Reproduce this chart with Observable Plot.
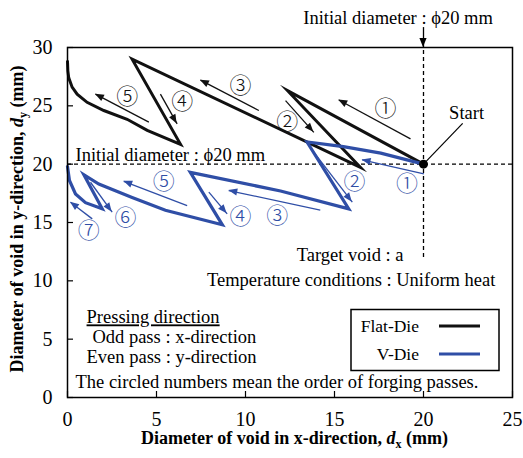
<!DOCTYPE html>
<html><head><meta charset="utf-8">
<script src="https://cdn.jsdelivr.net/npm/d3@7"></script>
<script src="https://cdn.jsdelivr.net/npm/@observablehq/plot@0.6"></script>
<style>
body{margin:0;background:#fff}
</style></head><body><div id="chart"></div>
<script>
// ---- data (mm) ----
const flatDx = [20, 12.36, 16.46, 3.63, 6.35, 4.48, 3.35, 2.04, 1.1, 0.54, 0.26, 0.07, 0.02, 0];
const flatDy = [20, 26.3, 19.72, 29.0, 21.7, 22.9, 23.85, 24.6, 25.3, 26.0, 26.6, 27.4, 28.0, 28.8];
const vDieDx = [20, 17.6, 15.5, 13.46, 15.8, 11.97, 6.9, 8.7, 5.5, 3.63, 1.76, 0.92, 1.95, 1.01, 0.45, 0.11, 0];
const vDieDy = [20, 20.95, 21.5, 21.9, 16.17, 17.7, 19.3, 14.8, 16.05, 17.15, 18.3, 19.1, 16.17, 16.7, 17.45, 18.6, 19.8];

// pass-order arrows [x1, y1, x2, y2]
const flatArrows = [[19.27,22.17,15.24,25.5],[12.25,25.45,13.84,22.73],[10.75,24.6,7.47,27.2],[5.22,26.0,6.16,23.45],[4.57,23.6,1.57,26.0]];
const vDieArrows = [[20.02,19.17,16.55,20.36],[13.8,21.1,16.0,16.74],[14.2,16.07,9.06,17.74],[7.94,17.6,8.97,15.74],[6.72,16.45,3.16,18.53],[1.29,18.45,2.51,15.88],[1.39,15.31,0.17,16.74]];

// circled pass numbers
const flatPassLabels = ["①","②","③","④","⑤"];
const flatPassX = [17.87, 12.34, 9.72, 6.44, 3.35];
const flatPassY = [24.74, 23.6, 26.74, 25.3, 25.73];
const vDiePassLabels = ["①","②","③","④","⑤","⑥","⑦"];
const vDiePassX = [19.08, 16.12, 11.78, 9.72, 5.41, 3.26, 1.2];
const vDiePassY = [18.3, 18.45, 15.6, 15.45, 18.45, 15.4, 14.3];

const initialDiameter = 20;
const xTicks = [0, 5, 10, 15, 20, 25];
const yTicks = [0, 5, 10, 15, 20, 25, 30];
const seriesNames = ["Flat-Die", "V-Die"];
const seriesColors = ["#111111", "#2f4ea6"];

// annotation texts
const noteTexts = ["Target void : a", "Temperature conditions : Uniform heat"];
const noteX = [18.88, 24.04];
const noteY = [12.17, 10.03];
const pressTexts = ["Pressing direction", "Odd pass : x-direction", "Even pass : y-direction", "The circled numbers mean the order of forging passes."];
const pressX = [1.07, 1.4, 1.07, 0.45];
const pressY = [6.86, 5.14, 3.43, 1.29];
const initLabel = "Initial diameter : \u03d520 mm";
const initLabelInside = {x: 0.45, y: 20.82};
const initLabelTop = {x: 18.57, y: 32.55};
const topArrow = {x: 20, y1: 31.75, y2: 30};
const verticalDashBottom = 12.0;
const startLabel = {x: 22.42, y: 24.42, lx: 22.2, ly: 23.5};

// ---- build rows ----
const flatRows = flatDx.map((d, i) => ({x: d, y: flatDy[i]}));
const vRows = vDieDx.map((d, i) => ({x: d, y: vDieDy[i]}));
const arrowRows = [
  ...flatArrows.map(a => ({x1: a[0], y1: a[1], x2: a[2], y2: a[3], c: seriesColors[0]})),
  ...vDieArrows.map(a => ({x1: a[0], y1: a[1], x2: a[2], y2: a[3], c: seriesColors[1]}))
];
const passRows = [
  ...flatPassLabels.map((t, i) => ({t, x: flatPassX[i], y: flatPassY[i], c: seriesColors[0]})),
  ...vDiePassLabels.map((t, i) => ({t, x: vDiePassX[i], y: vDiePassY[i], c: seriesColors[1]}))
];

const W = 523, H = 458;
const FS = 18.5;
const chart = Plot.plot({
  width: W, height: H,
  marginLeft: 67, marginRight: 11, marginTop: 47, marginBottom: 61,
  style: {fontFamily: "'Liberation Serif', serif", fontSize: "19.5px", color: "#000", background: "#fff"},
  x: {domain: [0, 25]},
  y: {domain: [0, 30]},
  marks: [
    Plot.axisX({ticks: xTicks, tickSize: -6, tickPadding: 20, label: null, stroke: "#000", strokeWidth: 1.2, fontSize: 20}),
    Plot.axisY({ticks: yTicks, tickSize: -6, tickPadding: 21, label: null, stroke: "#000", strokeWidth: 1.2, fontSize: 20}),
    Plot.ruleY([initialDiameter], {stroke: "#000", strokeWidth: 1.3, strokeDasharray: "4,3"}),
    Plot.ruleX([initialDiameter], {y1: verticalDashBottom, y2: 30, stroke: "#000", strokeWidth: 1.3, strokeDasharray: "4,3"}),
    Plot.line(flatRows, {x: "x", y: "y", stroke: seriesColors[0], strokeWidth: 3, strokeLinejoin: "miter", strokeMiterlimit: 8}),
    Plot.line(vRows, {x: "x", y: "y", stroke: seriesColors[1], strokeWidth: 3.2, strokeLinejoin: "miter", strokeMiterlimit: 8}),
    Plot.link(arrowRows, {x1: "x1", y1: "y1", x2: "x2", y2: "y2", stroke: "c", strokeWidth: 1.3}),
    Plot.text(passRows, {x: "x", y: "y", text: "t", fill: "c", fontSize: 22, fontFamily: "'Noto Sans CJK JP', sans-serif", fontWeight: 300}),
    Plot.link([startLabel], {x1: flatDx[0], y1: flatDy[0], x2: "lx", y2: "ly", stroke: "#000", strokeWidth: 1.2}),
    Plot.dot([{x: flatDx[0], y: flatDy[0]}], {x: "x", y: "y", r: 4.5, fill: "#000"}),
    Plot.text([startLabel], {x: "x", y: "y", text: () => "Start", fontSize: FS}),
    Plot.text([initLabelInside], {x: "x", y: "y", text: () => initLabel, textAnchor: "start", fontSize: FS}),
    Plot.text([initLabelTop], {x: "x", y: "y", text: () => initLabel, fontSize: FS}),
    Plot.link([topArrow], {x1: "x", x2: "x", y1: "y1", y2: "y2", stroke: "#000", strokeWidth: 1.3}),
    Plot.text(noteTexts, {x: (d, i) => noteX[i], y: (d, i) => noteY[i], text: d => d, textAnchor: "end", fontSize: FS}),
    Plot.text(pressTexts, {x: (d, i) => pressX[i], y: (d, i) => pressY[i], text: d => d, textAnchor: "start", fontSize: FS}),
    Plot.frame({stroke: "#000", strokeWidth: 1.5})
  ]
});

const svg = d3.select(chart);
svg.selectAll("text").filter(function() { return this.textContent === "Pressing direction"; })
  .attr("text-decoration", "underline");

const sx = chart.scale("x").apply, sy = chart.scale("y").apply;
const heads = svg.append("g");
function head(x1, y1, x2, y2, color, len, w) {
  const px1 = sx(x1), py1 = sy(y1), px2 = sx(x2), py2 = sy(y2);
  const dx = px2 - px1, dy = py2 - py1, L = Math.hypot(dx, dy);
  const ux = dx / L, uy = dy / L;
  const bx = px2 - ux * len, by = py2 - uy * len;
  const nx = -uy * w, ny = ux * w;
  heads.append("polygon")
    .attr("points", `${px2},${py2} ${bx + nx},${by + ny} ${bx - nx},${by - ny}`)
    .attr("fill", color);
}
arrowRows.forEach(a => head(a.x1, a.y1, a.x2, a.y2, a.c, 9, 3.6));
head(topArrow.x, topArrow.y1, topArrow.x, topArrow.y2, "#000", 9, 3.6);

// axis titles
const xMid = (67 + W - 11) / 2 + 5;
const xt = svg.append("text").attr("x", xMid).attr("y", 444).attr("text-anchor", "middle")
  .attr("font-weight", "bold").attr("font-size", 18);
xt.append("tspan").text("Diameter of void in x-direction, ");
xt.append("tspan").attr("font-style", "italic").text("d");
xt.append("tspan").attr("font-size", 12).attr("dy", 4).text("x");
xt.append("tspan").attr("dy", -4).text(" (mm)");

const yMid = (47 + H - 61) / 2 - 3;
const yt = svg.append("text").attr("transform", `translate(23,${yMid}) rotate(-90)`).attr("text-anchor", "middle")
  .attr("font-weight", "bold").attr("font-size", 18);
yt.append("tspan").text("Diameter of void in y-direction, ");
yt.append("tspan").attr("font-style", "italic").text("d");
yt.append("tspan").attr("font-size", 12).attr("dy", 4).text("y");
yt.append("tspan").attr("dy", -4).text(" (mm)");

// legend box
const lg = svg.append("g");
lg.append("rect").attr("x", 351).attr("y", 309.5).attr("width", 148).attr("height", 61)
  .attr("fill", "#fff").attr("stroke", "#000").attr("stroke-width", 1.5);
seriesNames.forEach((name, i) => {
  const cy = 326 + i * 28;
  lg.append("text").attr("x", 419).attr("y", cy + 6).attr("text-anchor", "end").attr("font-size", 17.5).text(name);
  lg.append("line").attr("x1", 439).attr("x2", 480).attr("y1", cy).attr("y2", cy)
    .attr("stroke", seriesColors[i]).attr("stroke-width", 3.2);
});

document.getElementById("chart").append(chart);
</script>
</body></html>
